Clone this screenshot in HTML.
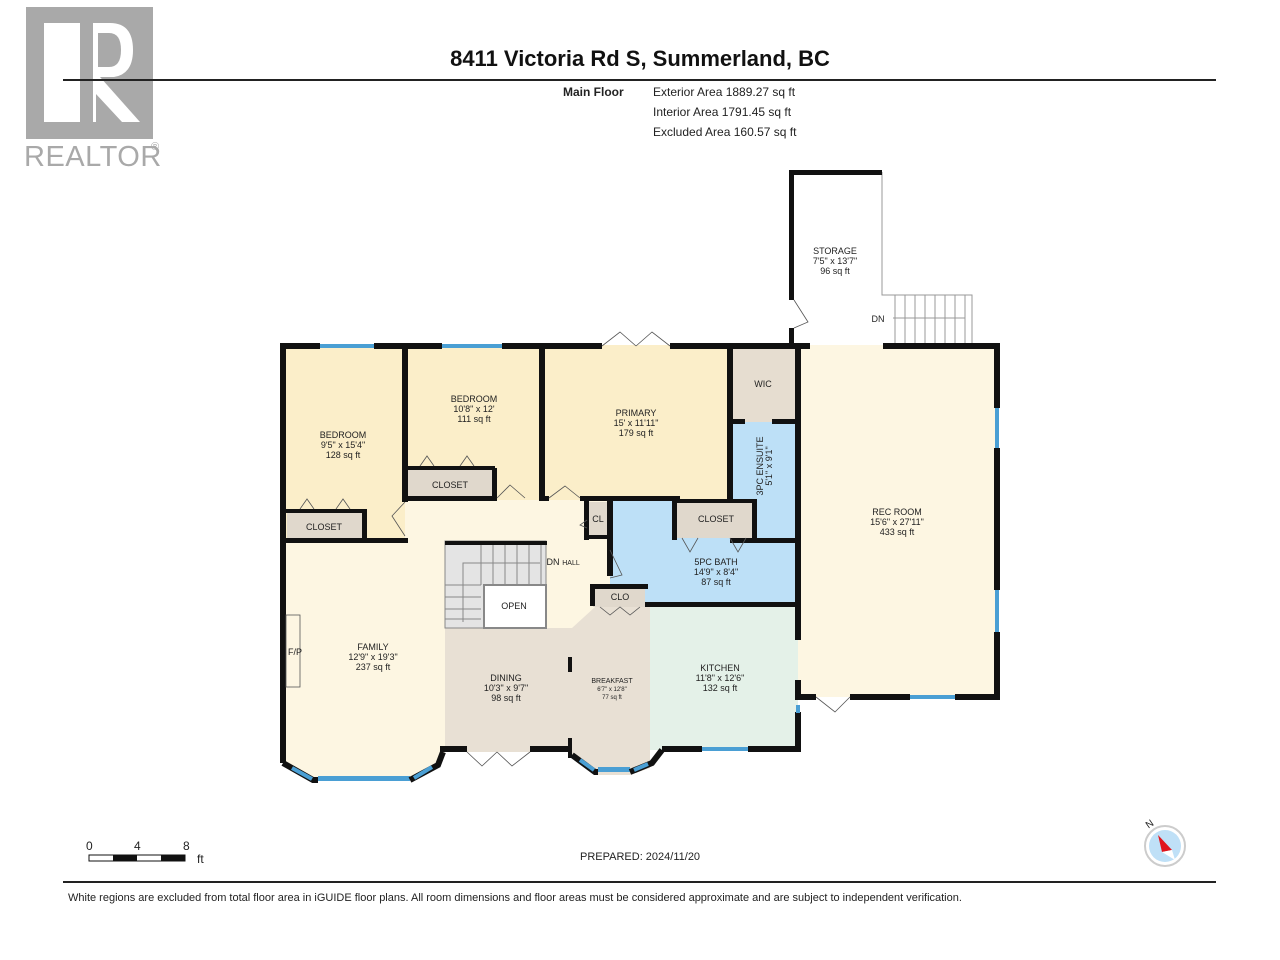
<!DOCTYPE html>
<html><head><meta charset="utf-8"><style>
html,body{margin:0;padding:0;background:#fff;}
svg{display:block}
text{font-family:"Liberation Sans",Arial,sans-serif;}
</style></head><body>
<svg width="1280" height="960" viewBox="0 0 1280 960" xmlns="http://www.w3.org/2000/svg">
<!-- logo -->
<rect x="26" y="7" width="127" height="132" fill="#a9a9a9"/>
<rect x="44" y="23" width="36" height="99" fill="#fff"/>
<path d="M93 23 H110 Q133 23 133 50 Q133 74 114 77 L100 77 L140 122 H122 L96 94 V122 H93 Z" fill="#fff"/>
<path d="M98 33 H109 Q121 33 121 50 Q121 67 109 67 H98 Z" fill="#a9a9a9"/>
<text x="24" y="166" font-size="29" fill="#a9a9a9" letter-spacing="0.5">REALTOR</text>
<text x="151" y="150" font-size="11" fill="#a9a9a9">®</text>
<!-- header -->
<text x="640" y="66" font-size="22" font-weight="bold" text-anchor="middle" fill="#111">8411 Victoria Rd S, Summerland, BC</text>
<line x1="63" y1="80" x2="1216" y2="80" stroke="#222" stroke-width="2"/>
<g font-size="12" fill="#222">
<text x="563" y="96" font-weight="bold">Main Floor</text>
<text x="653" y="96">Exterior Area 1889.27 sq ft</text>
<text x="653" y="116">Interior Area 1791.45 sq ft</text>
<text x="653" y="136">Excluded Area 160.57 sq ft</text>
</g>
<!-- room fills -->
<rect x="283" y="345" width="122" height="196" fill="#fbeec9"/>
<rect x="405" y="345" width="137" height="155" fill="#fbeec9"/>
<rect x="542" y="345" width="188" height="155" fill="#fbeec9"/>
<rect x="405" y="500" width="205" height="130" fill="#fdf6e2"/>
<polygon points="283,541 445,541 445,752 435,763 410,780 313,780 283,763" fill="#fdf6e2"/>
<rect x="445" y="628" width="127" height="124" fill="#e8e0d4"/>
<polygon points="572,628 595,607 650,607 650,768 630,775 595,775 572,755" fill="#e8e0d4"/>
<rect x="650" y="607" width="148" height="143" fill="#e4f1e8"/>
<rect x="610" y="500" width="188" height="105" fill="#bde0f7"/>
<rect x="730" y="422" width="68" height="118" fill="#bde0f7"/>
<rect x="730" y="345" width="68" height="77" fill="#e6ddd0"/>
<rect x="798" y="345" width="199" height="352" fill="#fdf6e2"/>
<rect x="676" y="502" width="78" height="36" fill="#e0d8cc"/>
<rect x="587" y="502" width="23" height="35" fill="#e0d8cc"/>
<rect x="593" y="587" width="52" height="20" fill="#e0d8cc"/>
<rect x="405" y="470" width="90" height="28" fill="#e0d8cc"/>
<rect x="287" y="512" width="78" height="29" fill="#e0d8cc"/>
<!-- stairs -->
<rect x="445" y="541" width="101" height="87" fill="#e4e4e4" stroke="#888"/>
<g stroke="#888" stroke-width="1">
<line x1="481" y1="545" x2="481" y2="585"/><line x1="493" y1="545" x2="493" y2="585"/><line x1="505" y1="545" x2="505" y2="585"/><line x1="517" y1="545" x2="517" y2="585"/><line x1="529" y1="545" x2="529" y2="585"/><line x1="541" y1="545" x2="541" y2="585"/>
<line x1="445" y1="585" x2="481" y2="585"/><line x1="445" y1="597" x2="481" y2="597"/><line x1="445" y1="609" x2="481" y2="609"/><line x1="445" y1="619" x2="481" y2="619"/>
<polyline points="540,563 463,563 463,622" fill="none"/>
</g>
<rect x="484" y="585" width="62" height="43" fill="#fff" stroke="#888" stroke-width="2"/>
<rect x="445" y="541" width="102" height="4" fill="#111"/>
<!-- storage -->
<rect x="790" y="172" width="92" height="173" fill="#fff"/>
<g stroke="#999" stroke-width="1" fill="none">
<polyline points="882,172 882,295 972,295 972,345"/>
<line x1="895" y1="295" x2="895" y2="345"/><line x1="905" y1="295" x2="905" y2="345"/><line x1="915" y1="295" x2="915" y2="345"/><line x1="925" y1="295" x2="925" y2="345"/><line x1="935" y1="295" x2="935" y2="345"/><line x1="945" y1="295" x2="945" y2="345"/><line x1="955" y1="295" x2="955" y2="345"/><line x1="965" y1="295" x2="965" y2="345"/>
<line x1="893" y1="318" x2="965" y2="318"/>
</g>
<g fill="#111">
<rect x="789" y="170" width="93" height="5"/>
<rect x="789" y="170" width="5" height="130"/>
<rect x="789" y="328" width="5" height="20"/>
</g>
<!-- walls -->
<g fill="#111">
<rect x="280" y="343" width="40" height="6"/><rect x="374" y="343" width="68" height="6"/><rect x="502" y="343" width="100" height="6"/><rect x="670" y="343" width="140" height="6"/><rect x="883" y="343" width="117" height="6"/>
<rect x="280" y="343" width="6" height="420"/>
<rect x="402" y="345" width="6" height="125"/><rect x="402" y="468" width="6" height="34"/>
<rect x="539" y="345" width="6" height="155"/>
<rect x="727" y="345" width="6" height="155"/>
<rect x="795" y="345" width="6" height="295"/>
<rect x="795" y="680" width="6" height="20"/>
<rect x="994" y="343" width="6" height="65"/><rect x="994" y="448" width="6" height="142"/><rect x="994" y="632" width="6" height="68"/>
<rect x="850" y="694" width="60" height="6"/><rect x="955" y="694" width="45" height="6"/>
<rect x="798" y="694" width="18" height="6"/>
<rect x="795" y="712" width="6" height="40"/>
<rect x="748" y="746" width="52" height="6"/><rect x="662" y="746" width="40" height="6"/>
<rect x="402" y="496" width="95" height="5"/><rect x="492" y="468" width="5" height="32"/>
<rect x="405" y="466" width="90" height="4"/>
<rect x="283" y="538" width="125" height="5"/><rect x="362" y="510" width="5" height="30"/>
<rect x="283" y="509" width="84" height="4"/>
<rect x="539" y="496" width="10" height="5"/><rect x="580" y="496" width="100" height="5"/>
<rect x="607" y="496" width="6" height="80"/>
<rect x="584" y="500" width="5" height="40"/><rect x="584" y="535" width="26" height="4"/>
<rect x="672" y="500" width="5" height="40"/><rect x="752" y="500" width="5" height="40"/><rect x="672" y="499" width="85" height="4"/>
<rect x="730" y="419" width="15" height="5"/><rect x="772" y="419" width="26" height="5"/>
<rect x="730" y="538" width="68" height="5"/>
<rect x="590" y="584" width="58" height="5"/><rect x="590" y="584" width="5" height="22"/>
<rect x="645" y="602" width="153" height="5"/>
<rect x="568" y="657" width="4" height="15"/><rect x="568" y="738" width="4" height="20"/>
<rect x="440" y="746" width="27" height="6"/><rect x="530" y="746" width="42" height="6"/>
</g>
<!-- windows -->
<g fill="#4a9fd4">
<rect x="320" y="344" width="54" height="4"/><rect x="442" y="344" width="60" height="4"/>
<rect x="995" y="408" width="4" height="40"/><rect x="995" y="590" width="4" height="42"/>
<rect x="910" y="695" width="45" height="4"/><rect x="702" y="747" width="46" height="4"/>
<rect x="796" y="705" width="4" height="8"/>
<rect x="318" y="776" width="92" height="5"/>
<rect x="598" y="767" width="32" height="5"/>
</g>
<g stroke="#111" stroke-width="6" fill="none">
<polyline points="283,763 313,780 318,780"/><polyline points="410,780 438,765 443,752"/>
<polyline points="572,755 595,772 598,772"/><polyline points="630,772 652,763 662,750"/>
</g>
<g stroke="#4a9fd4" stroke-width="4"><line x1="292" y1="768" x2="312" y2="779"/><line x1="414" y1="778" x2="432" y2="767"/><line x1="580" y1="760" x2="594" y2="770"/><line x1="634" y1="770" x2="648" y2="764"/></g>
<!-- doors -->
<g stroke="#555" stroke-width="0.8" fill="none">
<path d="M602 346 L620 332 L636 346 M636 346 L652 332 L670 346"/>
<path d="M467 752 L482 766 L497 752 M497 752 L512 766 L530 752"/>
<path d="M816 697 L835 712 L850 697"/>
<path d="M794 300 L808 322 L794 328"/>
<path d="M405 502 L392 516 L405 536"/>
<path d="M497 498 L510 485 L525 498 M549 498 L565 486 L580 498"/>
<path d="M420 466 L427 456 L434 466 M460 466 L467 456 L474 466"/>
<path d="M300 509 L307 499 L314 509 M336 509 L343 499 L350 509"/>
<path d="M682 538 L690 552 L698 538 M730 538 L738 552 L746 538"/>
<path d="M610 550 L622 575 L610 578"/>
<path d="M587 520 L580 525 L587 528"/>
<path d="M600 607 L610 615 L620 607 L630 615 L640 607"/>
<rect x="286" y="615" width="14" height="72"/>
</g>
<!-- labels -->
<g font-size="9" fill="#222" text-anchor="middle">
<text x="343" y="438">BEDROOM</text><text x="343" y="448">9'5" x 15'4"</text><text x="343" y="458">128 sq ft</text>
<text x="474" y="402">BEDROOM</text><text x="474" y="412">10'8" x 12'</text><text x="474" y="422">111 sq ft</text>
<text x="636" y="416">PRIMARY</text><text x="636" y="426">15' x 11'11"</text><text x="636" y="436">179 sq ft</text>
<text x="763" y="387">WIC</text>
<text x="835" y="254">STORAGE</text><text x="835" y="264">7'5" x 13'7"</text><text x="835" y="274">96 sq ft</text>
<text x="878" y="322">DN</text>
<text x="897" y="515">REC ROOM</text><text x="897" y="525">15'6" x 27'11"</text><text x="897" y="535">433 sq ft</text>
<text x="716" y="522">CLOSET</text>
<text x="598" y="522">CL</text>
<text x="716" y="565">5PC BATH</text><text x="716" y="575">14'9" x 8'4"</text><text x="716" y="585">87 sq ft</text>
<text x="620" y="600">CLO</text>
<text x="514" y="609">OPEN</text>
<text x="553" y="565">DN</text><text x="571" y="565" font-size="7">HALL</text>
<text x="373" y="650">FAMILY</text><text x="373" y="660">12'9" x 19'3"</text><text x="373" y="670">237 sq ft</text>
<text x="295" y="655">F/P</text>
<text x="506" y="681">DINING</text><text x="506" y="691">10'3" x 9'7"</text><text x="506" y="701">98 sq ft</text>
<text x="612" y="683" font-size="7">BREAKFAST</text><text x="612" y="691" font-size="6">6'7" x 12'8"</text><text x="612" y="699" font-size="6">77 sq ft</text>
<text x="720" y="671">KITCHEN</text><text x="720" y="681">11'8" x 12'6"</text><text x="720" y="691">132 sq ft</text>
<text x="450" y="488">CLOSET</text><text x="324" y="530">CLOSET</text>
</g>
<g font-size="9" fill="#222" text-anchor="middle"><text transform="translate(763,466) rotate(-90)">3PC ENSUITE</text><text transform="translate(772,466) rotate(-90)">5'1" x 9'1"</text></g>
<!-- scale -->
<g font-size="12" fill="#222"><text x="86" y="850">0</text><text x="134" y="850">4</text><text x="183" y="850">8</text><text x="197" y="863">ft</text></g>
<rect x="89" y="855" width="96" height="6" fill="#fff" stroke="#111"/>
<rect x="113" y="855" width="24" height="6" fill="#111"/><rect x="161" y="855" width="24" height="6" fill="#111"/>
<text x="580" y="860" font-size="11" fill="#222">PREPARED: 2024/11/20</text>
<!-- compass -->
<circle cx="1165" cy="846" r="20" fill="#fff" stroke="#ccc" stroke-width="2"/>
<circle cx="1165" cy="846" r="16" fill="#bfe0f7"/>
<polygon points="1158,835 1172,850 1162,852" fill="#e0141c"/>
<polygon points="1172,850 1162,852 1175,860" fill="#fff"/>
<text x="1146" y="827" font-size="10" fill="#222" transform="rotate(-35 1150 824)">N</text>
<line x1="63" y1="882" x2="1216" y2="882" stroke="#222" stroke-width="2"/>
<text x="68" y="901" font-size="11" fill="#222">White regions are excluded from total floor area in iGUIDE floor plans. All room dimensions and floor areas must be considered approximate and are subject to independent verification.</text>
</svg>
</body></html>
